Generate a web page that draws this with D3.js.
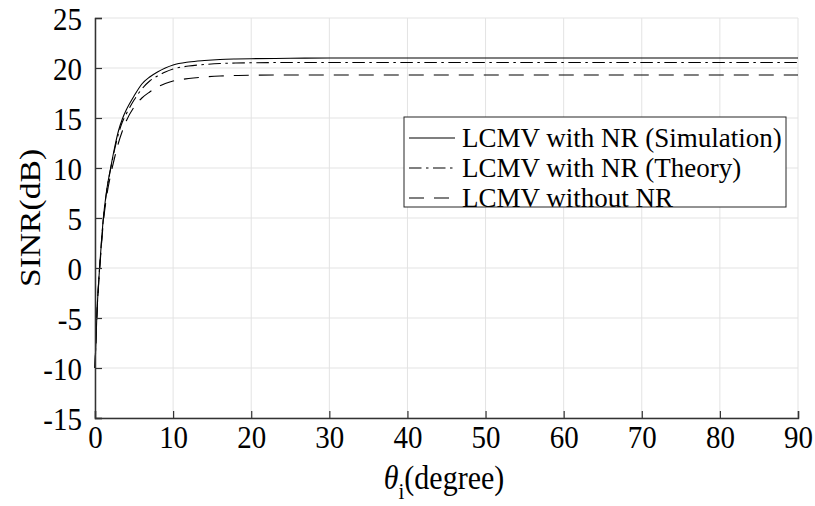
<!DOCTYPE html>
<html>
<head>
<meta charset="utf-8">
<script src="https://cdn.jsdelivr.net/npm/d3@7"></script>
<style>
  html, body { margin: 0; padding: 0; background: #fff; }
  svg { display: block; }
  text { font-family: "Liberation Serif", "Times New Roman", serif; fill: #000; }
</style>
</head>
<body>
<svg id="chart" width="815" height="506"></svg>
<script>
// ---- data ----
const theta = [0, 0.25, 0.5, 0.75, 1, 1.5, 2, 2.5, 3, 3.5, 4, 5, 6, 7, 8, 9, 10, 12, 14, 16, 18, 20, 25, 30, 40, 50, 60, 70, 80, 90];
const simulation = [-10, -4.5, -1, 1.8, 4.4, 7.8, 10, 12, 13.7, 14.9, 15.8, 17.2, 18.4, 19.1, 19.6, 20.0, 20.3, 20.6, 20.75, 20.85, 20.9, 20.93, 20.97, 21, 21, 21, 21, 21, 21, 21];
const theory = [-10, -4.5, -1, 1.8, 4.3, 7.7, 9.9, 11.8, 13.4, 14.6, 15.4, 16.8, 17.9, 18.7, 19.2, 19.6, 19.9, 20.2, 20.35, 20.45, 20.5, 20.52, 20.55, 20.55, 20.55, 20.55, 20.55, 20.55, 20.55, 20.55];
const withoutNR = [-10, -4.6, -1.2, 1.5, 4.0, 7.2, 9.3, 11.0, 12.5, 13.7, 14.7, 16.1, 17.0, 17.6, 18.1, 18.45, 18.7, 18.95, 19.1, 19.2, 19.25, 19.28, 19.3, 19.3, 19.3, 19.3, 19.3, 19.3, 19.3, 19.3];
const xTicks = [0, 10, 20, 30, 40, 50, 60, 70, 80, 90];
const yTicks = [-15, -10, -5, 0, 5, 10, 15, 20, 25];
const seriesNames = ["LCMV with NR (Simulation)", "LCMV with NR (Theory)", "LCMV without NR"];
const xLabel = "(degree)";
const yLabel = "SINR(dB)";

// ---- layout ----
const svg = d3.select("#chart");
const mLeft = 95, mRight = 798, mTop = 18, mBottom = 418;
const x = d3.scaleLinear().domain([0, 90]).range([mLeft, mRight]);
const y = d3.scaleLinear().domain([-15, 25]).range([mBottom, mTop]);
const axisColor = "#333333";
const fsTick = 29, fsLeg = 27, fsLab = 30;
const stretch = 1.12; // glyphs in the reference are slightly tall

// grid
const grid = svg.append("g");
grid.selectAll("line.gx").data(xTicks).enter().append("line")
  .attr("x1", d => x(d)).attr("x2", d => x(d)).attr("y1", mTop).attr("y2", mBottom)
  .attr("stroke", "#e3e3e3").attr("stroke-width", 1);
grid.selectAll("line.gy").data(yTicks).enter().append("line")
  .attr("x1", mLeft).attr("x2", mRight).attr("y1", d => y(d)).attr("y2", d => y(d))
  .attr("stroke", "#e3e3e3").attr("stroke-width", 1);

// series
const styles = [
  { data: simulation, dash: null },
  { data: theory, dash: "12.5,4.5,2.5,4.5" },
  { data: withoutNR, dash: "15,10" }
];
const line = d3.line().x(d => x(d[0])).y(d => y(d[1])).curve(d3.curveMonotoneX);
styles.forEach(s => {
  svg.append("path")
    .datum(theta.map((t, i) => [t, s.data[i]]))
    .attr("d", line)
    .attr("fill", "none")
    .attr("stroke", "#000")
    .attr("stroke-width", 1.1)
    .attr("stroke-dasharray", s.dash);
});

// axes
const xAxis = d3.axisBottom(x).tickValues(xTicks).tickSize(-7).tickFormat(d3.format("d"));
const yAxis = d3.axisLeft(y).tickValues(yTicks).tickSize(-7).tickFormat(d => d);
const gx = svg.append("g").attr("transform", `translate(0,${mBottom})`).call(xAxis);
const gy = svg.append("g").attr("transform", `translate(${mLeft},0)`).call(yAxis);
[gx, gy].forEach(g => {
  g.select(".domain").attr("stroke", axisColor).attr("stroke-width", 1.5);
  g.selectAll(".tick line").attr("stroke", axisColor).attr("stroke-width", 1.2);
  g.selectAll(".tick text").attr("font-size", fsTick).attr("fill", "#000")
    .style("font-family", '"Liberation Serif", serif');
});
gx.selectAll(".tick text").attr("x", 0).attr("y", 0).attr("dy", "0.35em")
  .attr("transform", `translate(0,19) scale(1,${stretch})`);
gy.selectAll(".tick text").attr("x", 0).attr("y", 0).attr("dy", "0.35em")
  .attr("transform", `translate(-13,0) scale(1,${stretch})`);

// axis labels
const xl = svg.append("text").attr("text-anchor", "middle").attr("font-size", fsLab)
  .attr("transform", `translate(444,489) scale(1,${stretch})`);
xl.append("tspan").attr("font-style", "italic").text("θ");
xl.append("tspan").attr("font-size", 21).attr("dy", 9).text("i");
xl.append("tspan").attr("dy", -9).text(xLabel);

svg.append("text")
  .attr("transform", `translate(40,218) rotate(-90) scale(${stretch},1)`)
  .attr("text-anchor", "middle").attr("font-size", fsLab)
  .text(yLabel);

// legend
const lg = svg.append("g");
lg.append("rect").attr("x", 404).attr("y", 117).attr("width", 382).attr("height", 90)
  .attr("fill", "#fff").attr("stroke", "#262626").attr("stroke-width", 1);
styles.forEach((s, i) => {
  const cy = 138 + i * 30;
  lg.append("line").attr("x1", 409).attr("x2", 455).attr("y1", cy).attr("y2", cy)
    .attr("stroke", "#000").attr("stroke-width", 1.1).attr("stroke-dasharray", s.dash);
  lg.append("text").attr("x", 462).attr("y", cy).attr("dy", "0.35em")
    .attr("font-size", fsLeg).text(seriesNames[i]);
});
</script>
</body>
</html>
